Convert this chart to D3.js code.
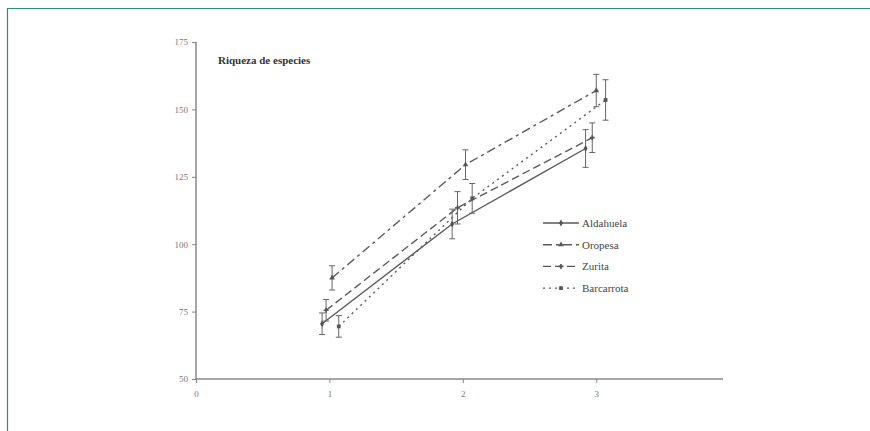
<!DOCTYPE html>
<html>
<head>
<meta charset="utf-8">
<script src="https://cdn.jsdelivr.net/npm/d3@7"></script>
<style>
	body { margin: 0; background: #fff; }
</style>
</head>
<body>
<svg id="chart"></svg>
<script>
	//chart data
	var seriesNames = ["Aldahuela", "Oropesa", "Zurita", "Barcarrota"];
	var aldahuelaX = [0.945, 1.92, 2.92];
	var aldahuelaY = [70.5, 107.5, 135.5];
	var aldahuelaErr = [4, 5.5, 7];
	var oropesaX = [1.02, 2.02, 3.0];
	var oropesaY = [87.5, 129.5, 157];
	var oropesaErr = [4.5, 5.5, 6];
	var zuritaX = [0.975, 1.96, 2.97];
	var zuritaY = [75.5, 113.5, 139.5];
	var zuritaErr = [4, 6, 5.5];
	var barcarrotaX = [1.07, 2.07, 3.07];
	var barcarrotaY = [69.5, 117, 153.5];
	var barcarrotaErr = [4, 5.5, 7.5];
	var yTicks = [50, 75, 100, 125, 150, 175];
	var xTicks = [0, 1, 2, 3];
	var title = "Riqueza de especies";

	var serif = "'Liberation Serif', 'DejaVu Serif', serif";
	var width = 870, height = 431;
	var svg = d3.select("#chart").attr("width", width).attr("height", height);

	//teal frame
	svg.append("path").attr("d", "M7.5," + height + "V8.5H" + width)
		.style("fill", "none").style("stroke", "#2f8a80").style("stroke-width", 1.2);

	var x = d3.scaleLinear().domain([0, 3.95]).range([196, 723]);
	var y = d3.scaleLinear().domain([50, 175]).range([379, 42]);

	//axes
	var axisColor = "#888";
	var gy = svg.append("g").attr("transform", "translate(196,0)")
		.call(d3.axisLeft(y).tickValues(yTicks).tickFormat(d3.format("d")).tickSize(4).tickPadding(4));
	var gx = svg.append("g").attr("transform", "translate(0,379)")
		.call(d3.axisBottom(x).tickValues(xTicks).tickFormat(d3.format("d")).tickSize(4).tickPadding(8));
	[gx, gy].forEach(function(g) {
		g.attr("font-family", null);
		g.select(".domain").style("stroke", axisColor).style("stroke-width", 1.5);
		g.selectAll(".tick line").style("stroke", axisColor);
		g.selectAll(".tick text").style("fill", "#777").style("font-size", "9px")
			.style("font-family", serif);
	});
	gy.select(".domain").attr("d", "M0,42V379");
	gx.select(".domain").attr("d", "M196,0H723");

	//title
	svg.append("text").attr("x", 218).attr("y", 64).text(title)
		.style("font-family", serif)
		.style("font-size", "11px").style("font-weight", "bold").style("fill", "#333");

	var series = [
		{ name: seriesNames[0], xs: aldahuelaX, ys: aldahuelaY, err: aldahuelaErr, dash: null, marker: "diamond" },
		{ name: seriesNames[1], xs: oropesaX, ys: oropesaY, err: oropesaErr, dash: "9,4,3,4", marker: "triangle" },
		{ name: seriesNames[2], xs: zuritaX, ys: zuritaY, err: zuritaErr, dash: "8,4", marker: "plus" },
		{ name: seriesNames[3], xs: barcarrotaX, ys: barcarrotaY, err: barcarrotaErr, dash: "2,4", marker: "square" }
	];
	var lineColor = "#5a5a5a";
	var symbolType = { diamond: d3.symbolDiamond, triangle: d3.symbolTriangle, plus: d3.symbolCross, square: d3.symbolSquare };

	var line = d3.line().x(function(d) { return x(d[0]); }).y(function(d) { return y(d[1]); });

	series.forEach(function(s) {
		var pts = s.xs.map(function(v, i) { return [v, s.ys[i], s.err[i]]; });
		var g = svg.append("g");
		g.append("path").attr("d", line(pts))
			.style("fill", "none").style("stroke", lineColor).style("stroke-width", 1.4)
			.style("stroke-dasharray", s.dash);
		//error bars
		pts.forEach(function(p) {
			var cx = x(p[0]), y0 = y(p[1] - p[2]), y1 = y(p[1] + p[2]);
			g.append("path").attr("d", "M" + cx + "," + y0 + "V" + y1 + "M" + (cx - 3) + "," + y0 + "H" + (cx + 3) + "M" + (cx - 3) + "," + y1 + "H" + (cx + 3))
				.style("fill", "none").style("stroke", "#666").style("stroke-width", 1);
			g.append("path").attr("d", d3.symbol().type(symbolType[s.marker]).size(14)())
				.attr("transform", "translate(" + cx + "," + y(p[1]) + ")")
				.style("fill", "#555");
		});
	});

	//legend
	var legend = svg.append("g").attr("transform", "translate(543,223)");
	series.forEach(function(s, i) {
		var row = legend.append("g").attr("transform", "translate(0," + (i * 21.7) + ")");
		row.append("line").attr("x1", 0).attr("x2", 36).attr("y1", 0).attr("y2", 0)
			.style("stroke", lineColor).style("stroke-width", 1.4).style("stroke-dasharray", s.dash);
		row.append("path").attr("d", d3.symbol().type(symbolType[s.marker]).size(14)())
			.attr("transform", "translate(18,0)").style("fill", "#555");
		row.append("text").attr("x", 39).attr("y", 4).text(s.name)
			.style("font-family", serif)
			.style("font-size", "11px").style("fill", "#444");
	});
</script>
</body>
</html>
